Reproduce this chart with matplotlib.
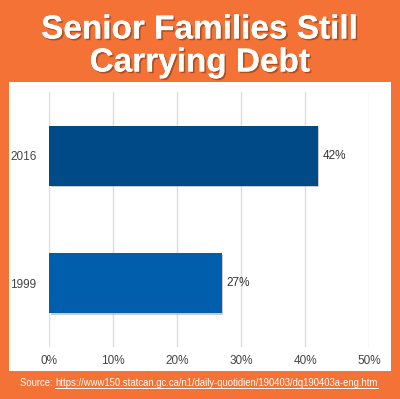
import matplotlib
matplotlib.use("Agg")
import matplotlib.pyplot as plt
import matplotlib.patheffects as pe
from matplotlib.patches import Rectangle
from matplotlib.lines import Line2D

categories = ["1999", "2016"]
values = [27, 42]
bar_colors = ["#005EAD", "#004A87"]
xticks = [0, 10, 20, 30, 40, 50]
title_lines = ["Senior Families Still", "Carrying Debt"]
source_prefix = "Source: "
source_url = "https://www150.statcan.gc.ca/n1/daily-quotidien/190403/dq190403a-eng.htm"

W, H = 400, 399
plt.rcParams["font.family"] = ["Liberation Sans", "DejaVu Sans"]
fig = plt.figure(figsize=(W / 100, H / 100), dpi=100)
fig.patch.set_facecolor("#F47235")

# white panel
panel = Rectangle((9 / W, 1 - 371 / H), 382 / W, (371 - 82) / H,
                  transform=fig.transFigure, facecolor="white",
                  edgecolor="none", zorder=-5)
fig.patches.append(panel)

ax = fig.add_axes([49 / W, 1 - 347 / H, 320 / W, (347 - 92) / H])
ax.set_zorder(1)
ax.set_facecolor("none")
ypos = list(range(len(categories)))
# shadows
for y, v in zip(ypos, values):
    ax.barh(y - 0.012, v, left=0.25, height=0.47, color="#9a9a9a", alpha=0.5, zorder=2)
ax.barh(ypos, values, height=0.47, color=bar_colors, zorder=3)
for y, v in zip(ypos, values):
    ax.text(v + 0.8, y, f"{v}%", va="center", ha="left", fontsize=8.5, color="#333333")

ax.set_xlim(0, 50)
ax.set_ylim(-0.5, 1.5)
ax.set_xticks(xticks)
ax.set_xticklabels([f"{t}%" for t in xticks])
ax.set_yticks(ypos)
ax.set_yticklabels(categories)
ax.tick_params(axis="both", length=0, labelsize=8.5, labelcolor="#444444")
ax.tick_params(axis="x", pad=6)
ax.tick_params(axis="y", pad=9)
ax.xaxis.grid(True, color="#dcdcdc", linewidth=1)
ax.set_axisbelow(True)
for s in ax.spines.values():
    s.set_visible(False)

shadow = [pe.withSimplePatchShadow(offset=(1.2, -1.2), shadow_rgbFace="#7a3a1a", alpha=0.6),
          pe.Normal()]
for line, yc in zip(title_lines, [30, 63]):
    fig.text(0.5, 1 - yc / H, line, ha="center", va="center", fontsize=24,
             fontweight="bold", color="white", path_effects=shadow)

t1 = fig.text(20 / W, 1 - 383 / H, source_prefix, ha="left", va="center",
              fontsize=6.85, color="white")
fig.canvas.draw()
r = fig.canvas.get_renderer()
bb = t1.get_window_extent(r)
x2 = bb.x1 / W
t2 = fig.text(x2, 1 - 383 / H, source_url, ha="left", va="center",
              fontsize=6.85, color="white")
fig.canvas.draw()
bb2 = t2.get_window_extent(r)
yl = (bb2.y0 + 0.5) / H
fig.lines.append(Line2D([bb2.x0 / W, bb2.x1 / W], [yl, yl], transform=fig.transFigure,
                        color="white", linewidth=0.7))

fig.savefig("out.png", dpi=100, facecolor=fig.get_facecolor())
